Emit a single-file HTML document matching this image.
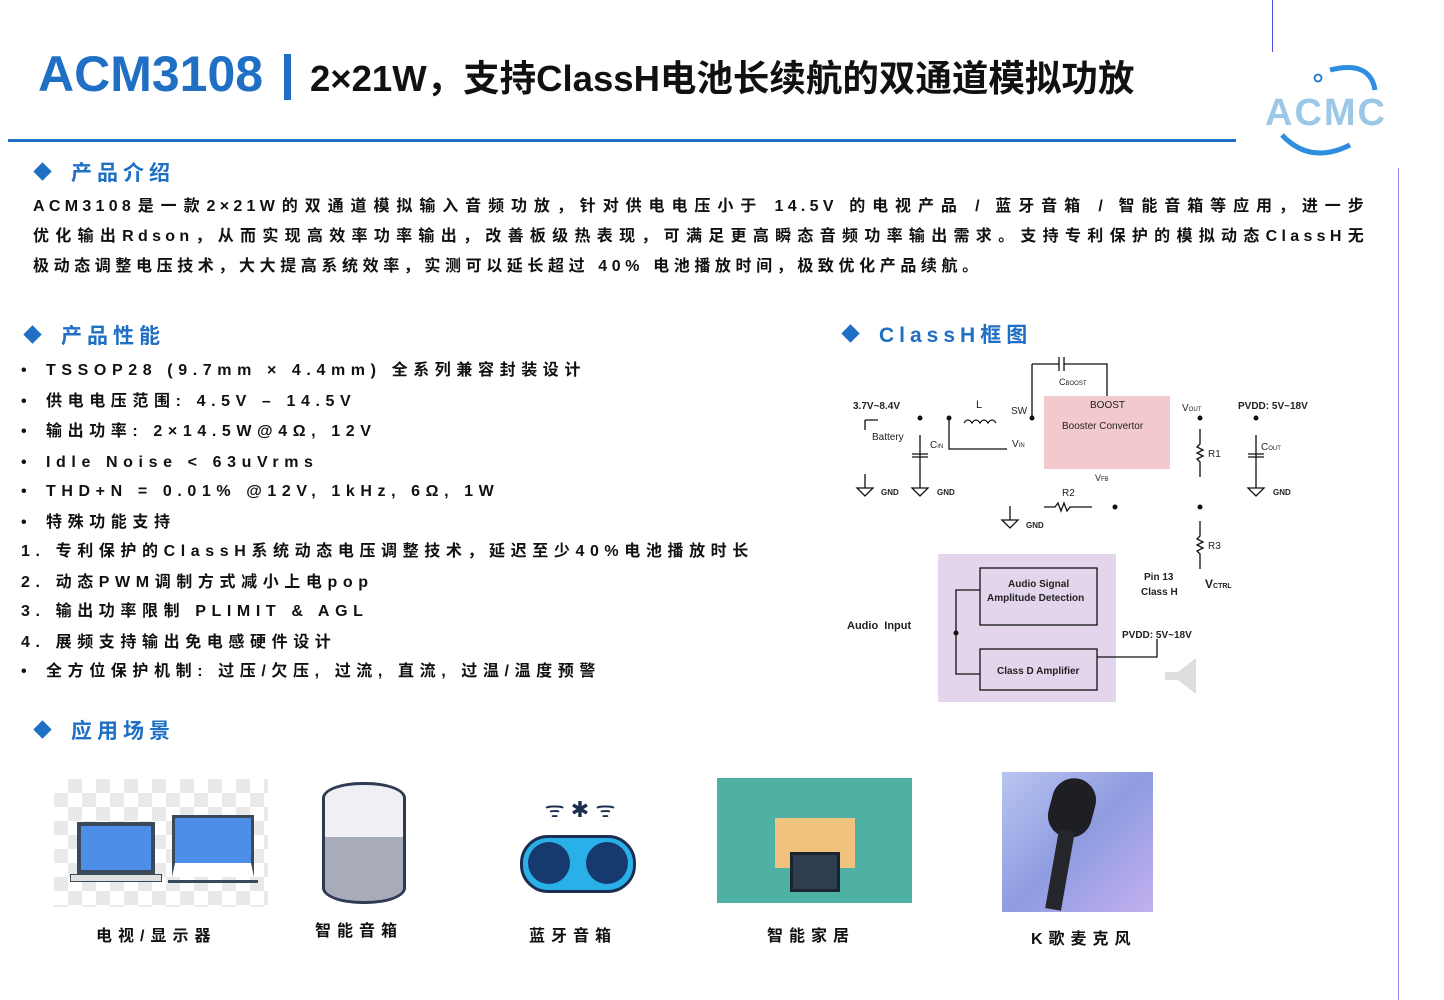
<!DOCTYPE html>
<html><head><meta charset="utf-8"><style>
*{margin:0;padding:0;box-sizing:border-box}
body{width:1444px;height:1000px;background:#fff;position:relative;overflow:hidden;font-family:"Liberation Sans","Noto Sans CJK SC",sans-serif;color:#111}
.a{position:absolute;white-space:nowrap;line-height:20px}
.h{color:#1f6fc4;font-size:21px;font-weight:bold;letter-spacing:5px;line-height:26px}
.d{display:inline-block;width:13px;height:13px;background:#1f6fc4;transform:rotate(45deg);margin-right:22px;vertical-align:2px}
.p{font-size:16px;font-weight:bold;letter-spacing:4.3px;left:33px;width:1335px;text-align:justify;text-align-last:justify}
.f{font-size:16px;font-weight:bold;letter-spacing:5.6px;left:21px}
.b{display:inline-block;width:25px;letter-spacing:0}
.cap{font-size:16px;font-weight:bold;letter-spacing:6px}
</style></head><body>
<div class="a" style="left:1272px;top:0;width:1px;height:52px;background:#5050e0"></div>
<div class="a" style="left:1398px;top:168px;width:1px;height:832px;background:#8a8ae8"></div>
<div class="a" style="left:38px;top:47px;font-size:50px;line-height:54px;font-weight:bold;color:#1f6fc4">ACM3108</div>
<div class="a" style="left:284px;top:54px;width:7px;height:46px;background:#1f6fc4"></div>
<div class="a" style="left:310px;top:57px;font-size:36.5px;line-height:44px;font-weight:bold">2×21W，支持ClassH电池长续航的双通道模拟功放</div>
<div class="a" style="left:8px;top:139px;width:1228px;height:3px;background:#1f6fc4"></div>
<svg class="a" style="left:1260px;top:60px" width="150" height="100">
<circle cx="58" cy="18" r="3.5" fill="none" stroke="#2d7fd0" stroke-width="2"/>
<path d="M70 10 Q110 0 115 30" fill="none" stroke="#2d8ee0" stroke-width="5"/>
<path d="M22 75 Q50 105 90 85" fill="none" stroke="#2d8ee0" stroke-width="5"/>
<text x="5" y="65" font-size="38" font-weight="bold" fill="#9cc8e8" font-family="Liberation Sans" letter-spacing="2">ACMC</text>
</svg>
<div class="a h" style="left:36px;top:161px"><span class="d"></span>产品介绍</div>
<div class="a p" style="top:197px">ACM3108是一款2×21W的双通道模拟输入音频功放，针对供电电压小于 14.5V 的电视产品 / 蓝牙音箱 / 智能音箱等应用，进一步</div>
<div class="a p" style="top:227px">优化输出Rdson，从而实现高效率功率输出，改善板级热表现，可满足更高瞬态音频功率输出需求。支持专利保护的模拟动态ClassH无</div>
<div class="a" style="top:257px;left:33px;font-size:16px;font-weight:bold;letter-spacing:4.6px">极动态调整电压技术，大大提高系统效率，实测可以延长超过 40% 电池播放时间，极致优化产品续航。</div>
<div class="a h" style="left:26px;top:324px"><span class="d"></span>产品性能</div>
<div class="a f" style="top:361px"><span class="b">•</span>TSSOP28 (9.7mm × 4.4mm) 全系列兼容封装设计</div>
<div class="a f" style="top:392px"><span class="b">•</span>供电电压范围: 4.5V – 14.5V</div>
<div class="a f" style="top:422px"><span class="b">•</span>输出功率: 2×14.5W@4Ω, 12V</div>
<div class="a f" style="top:453px"><span class="b">•</span>Idle Noise &lt; 63uVrms</div>
<div class="a f" style="top:482px"><span class="b">•</span>THD+N = 0.01% @12V, 1kHz, 6Ω, 1W</div>
<div class="a f" style="top:513px"><span class="b">•</span>特殊功能支持</div>
<div class="a f" style="top:542px">1. 专利保护的ClassH系统动态电压调整技术，延迟至少40%电池播放时长</div>
<div class="a f" style="top:573px">2. 动态PWM调制方式减小上电pop</div>
<div class="a f" style="top:602px">3. 输出功率限制 PLIMIT &amp; AGL</div>
<div class="a f" style="top:633px">4. 展频支持输出免电感硬件设计</div>
<div class="a f" style="top:662px"><span class="b">•</span>全方位保护机制: 过压/欠压, 过流, 直流, 过温/温度预警</div>
<div class="a h" style="left:844px;top:323px"><span class="d"></span>ClassH框图</div>
<div class="a h" style="left:36px;top:719px"><span class="d"></span>应用场景</div>
<svg class="a" style="left:840px;top:340px" width="500" height="370" font-family="Liberation Sans" font-size="10" font-weight="bold" fill="#222">
<g stroke="#111" stroke-width="1.3" fill="none">
<rect x="204" y="56" width="126" height="73" fill="#f2c9cc" stroke="none"/>
<rect x="98" y="214" width="178" height="148" fill="#e3d5ec" stroke="none"/>
<rect x="140" y="228" width="117" height="57"/>
<rect x="140" y="309" width="117" height="41"/>
<path d="M140 250 H116 V334 H140"/>
<path d="M257 317 H317 V299"/>
<path d="M192 24 H219 M224 24 H267 V56 M192 24 V77 M219 17 V31 M224 17 V31"/>
<path d="M25 80 V90 M25 80 H38"/>
<path d="M80 95 V120 M72 114 H88 M72 117 H88 M80 117 V148"/>
<path d="M109 77 V109 H167"/>
<path d="M124 83 q4 -6 8 0 q4 -6 8 0 q4 -6 8 0 q4 -6 8 0"/>
<path d="M360 89 V104 l-3 3 6 3 -6 3 6 3 -6 3 3 3 V137"/>
<path d="M360 181 V196 l-3 3 6 3 -6 3 6 3 -6 3 3 3 V229"/>
<path d="M416 95 V120 M408 114 H424 M408 117 H424 M416 117 V148"/>
<path d="M204 167 H215 l3 -4 3 8 3 -8 3 8 3 -4 H252"/>
<path d="M25 134 V148 M170 166 V180"/>
</g>
<g fill="#fff" stroke="#111" stroke-width="1.3"><path d="M17 148 H33 L25 156Z M72 148 H88 L80 156Z M408 148 H424 L416 156Z M162 180 H178 L170 188Z"/></g>
<g fill="#111"><circle cx="80" cy="78" r="2.5"/><circle cx="109" cy="78" r="2.5"/><circle cx="192" cy="78" r="2.5"/><circle cx="360" cy="78" r="2.5"/><circle cx="416" cy="78" r="2.5"/><circle cx="275" cy="167" r="2.5"/><circle cx="360" cy="167" r="2.5"/><circle cx="116" cy="293" r="2.5"/></g>
<path d="M325 332 h13 l18 -14 v36 l-18 -14 h-13z" fill="#ddd"/>
<text x="13" y="69">3.7V~8.4V</text><text x="136" y="68" font-size="11" font-weight="normal">L</text>
<text x="171" y="74" font-weight="normal">SW</text><text x="32" y="100" font-weight="normal">Battery</text>
<text x="90" y="108" font-weight="normal">C<tspan font-size="6">IN</tspan></text><text x="172" y="107" font-weight="normal">V<tspan font-size="6">IN</tspan></text>
<text x="219" y="45" font-weight="normal" font-size="9">C<tspan font-size="6">BOOST</tspan></text>
<text x="250" y="68" font-weight="normal">BOOST</text><text x="222" y="89" font-weight="normal">Booster Convertor</text>
<text x="342" y="71" font-weight="normal">V<tspan font-size="6">OUT</tspan></text><text x="398" y="69">PVDD: 5V~18V</text>
<text x="368" y="117" font-weight="normal">R1</text><text x="421" y="110" font-weight="normal">C<tspan font-size="6">OUT</tspan></text>
<text x="255" y="141" font-weight="normal" font-size="9">V<tspan font-size="6">FB</tspan></text><text x="222" y="156" font-weight="normal">R2</text>
<g font-size="8"><text x="41" y="155">GND</text><text x="97" y="155">GND</text><text x="433" y="155">GND</text><text x="186" y="188">GND</text></g>
<text x="368" y="209" font-weight="normal">R3</text>
<text x="304" y="240">Pin 13</text><text x="301" y="255">Class H</text>
<text x="365" y="248" font-size="12">V<tspan font-size="7">CTRL</tspan></text>
<text x="168" y="247">Audio Signal</text><text x="147" y="261">Amplitude Detection</text>
<text x="157" y="334">Class D Amplifier</text><text x="7" y="289" font-size="11">Audio&nbsp; Input</text>
<text x="282" y="298">PVDD: 5V~18V</text>
</svg>
<div class="a" style="left:54px;top:779px;width:214px;height:128px;background:repeating-conic-gradient(#e9e9e9 0 25%,#fff 0 50%) 0 0/28px 28px"></div>
<div class="a" style="left:77px;top:822px;width:78px;height:52px;background:#4d8ee8;border:4px solid #3a4a58"></div>
<div class="a" style="left:70px;top:874px;width:92px;height:8px;background:#e0e0e0;border:1px solid #3a4a58"></div>
<div class="a" style="left:172px;top:815px;width:82px;height:62px;background:#4d8ee8;border:3px solid #3a4a58;border-bottom:14px solid #fff"></div>
<div class="a" style="left:168px;top:880px;width:90px;height:3px;background:#3a4a58"></div>
<div class="a" style="left:322px;top:782px;width:84px;height:122px;border-radius:40px/16px;background:linear-gradient(#f0f0f4 0 45%,#a8abb8 45%);border:3px solid #2f3a55"></div>
<div class="a" style="left:520px;top:835px;width:116px;height:58px;border-radius:28px;background:#2ab0e8;border:3px solid #1c2e50"></div>
<div class="a" style="left:528px;top:842px;width:42px;height:42px;border-radius:50%;background:#16396e"></div>
<div class="a" style="left:586px;top:842px;width:42px;height:42px;border-radius:50%;background:#16396e"></div>
<div class="a" style="left:530px;top:795px;width:100px;height:30px;font-size:22px;color:#1c2e50;line-height:30px;text-align:center">ᯤ ✱ ᯤ</div>
<div class="a" style="left:717px;top:778px;width:195px;height:125px;background:#4fb0a4"></div>
<div class="a" style="left:775px;top:818px;width:80px;height:50px;background:#f1c27d"></div>
<div class="a" style="left:790px;top:852px;width:50px;height:40px;background:#2c3e50;border:3px solid #1a2530"></div>
<div class="a" style="left:1002px;top:772px;width:151px;height:140px;background:linear-gradient(135deg,#b9c4f0,#8e9ce0 50%,#c4b0f0)"></div>
<div class="a" style="left:1050px;top:778px;width:44px;height:60px;border-radius:22px;background:#1e1f24;transform:rotate(15deg)"></div>
<div class="a" style="left:1052px;top:830px;width:16px;height:80px;background:#25262c;transform:rotate(10deg)"></div>
<div class="a cap" style="left:96px;top:927px">电视/显示器</div>
<div class="a cap" style="left:315px;top:922px">智能音箱</div>
<div class="a cap" style="left:529px;top:927px">蓝牙音箱</div>
<div class="a cap" style="left:767px;top:927px">智能家居</div>
<div class="a cap" style="left:1031px;top:930px">K歌麦克风</div>
</body></html>
